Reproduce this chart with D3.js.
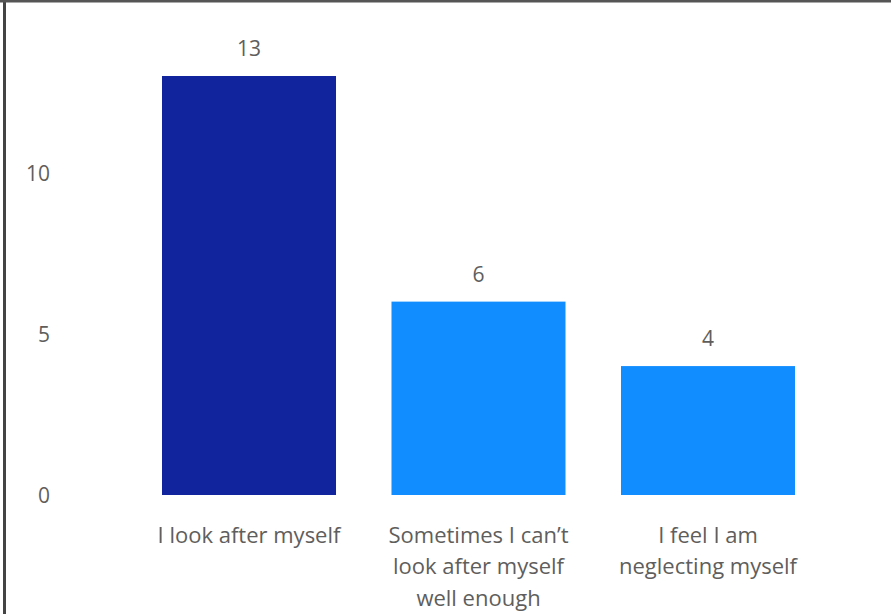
<!DOCTYPE html>
<html>
<head>
<meta charset="utf-8">
<script src="https://cdn.jsdelivr.net/npm/d3@7"></script>
<style>
  body { margin: 0; background: #fff; }
  text { font-family: "Open Sans", "Segoe UI", sans-serif; fill: #605E5C; }
</style>
</head>
<body>
<svg></svg>
<script>
var width = 891;
var height = 614;

var categories = ["I look after myself", "Sometimes I can\u2019t look after myself well enough", "I feel I am neglecting myself"];
var labelLines = [
    ["I look after myself"],
    ["Sometimes I can\u2019t", "look after myself", "well enough"],
    ["I feel I am", "neglecting myself"]
];
var counts = [13, 6, 4];
var barColors = ["#12239E", "#118DFF", "#118DFF"];
var yTicks = [0, 5, 10];

var svg = d3.select("svg")
    .attr("width", width)
    .attr("height", height);

// frame of the visual
svg.append("line").attr("x1", 4.5).attr("x2", 4.5).attr("y1", 0).attr("y2", height)
    .attr("stroke", "#444").attr("stroke-width", 3);
svg.append("line").attr("x1", 0).attr("x2", width).attr("y1", 1).attr("y2", 1)
    .attr("stroke", "#555").attr("stroke-width", 3);

var x = d3.scaleBand()
    .domain(categories)
    .range([134.25, 822.75])
    .paddingInner(0.2418)
    .paddingOuter(0.1209);

var y = d3.scaleLinear()
    .domain([0, 13])
    .range([495, 76]);

svg.selectAll(".bar")
    .data(categories)
    .enter()
    .append("rect")
        .classed("bar", true)
        .attr("x", d => x(d))
        .attr("y", (d, i) => y(counts[i]))
        .attr("width", x.bandwidth())
        .attr("height", (d, i) => y(0) - y(counts[i]))
        .attr("fill", (d, i) => barColors[i]);

svg.selectAll(".value")
    .data(categories)
    .enter()
    .append("text")
        .classed("value", true)
        .attr("x", d => x(d) + x.bandwidth() / 2)
        .attr("y", (d, i) => y(counts[i]) - 20)
        .style("text-anchor", "middle")
        .style("font-size", "21px")
        .text((d, i) => counts[i]);

var yAxis = svg.append("g")
    .attr("transform", "translate(50,0)")
    .call(d3.axisLeft(y).tickValues(yTicks).tickSize(0).tickPadding(0));
yAxis.select(".domain").remove();
yAxis.selectAll("text")
    .attr("dy", "0.35em")
    .style("font-size", "21px")
    .style("font-family", "'Open Sans', sans-serif")
    .attr("fill", "#605E5C");

var xAxis = svg.append("g")
    .attr("transform", "translate(0,495)")
    .call(d3.axisBottom(x).tickSize(0).tickPadding(0));
xAxis.select(".domain").remove();
xAxis.selectAll("text")
    .style("font-size", "22px")
    .style("font-family", "'Open Sans', sans-serif")
    .attr("fill", "#605E5C")
    .attr("dy", null)
    .attr("y", null)
    .text(null)
    .each(function(d, i) {
        var text = d3.select(this);
        labelLines[i].forEach((ln, j) => {
            text.append("tspan")
                .attr("x", 0)
                .attr("y", 40 + j * 31.5)
                .attr("dy", "0.35em")
                .text(ln);
        });
    });
</script>
</body>
</html>
